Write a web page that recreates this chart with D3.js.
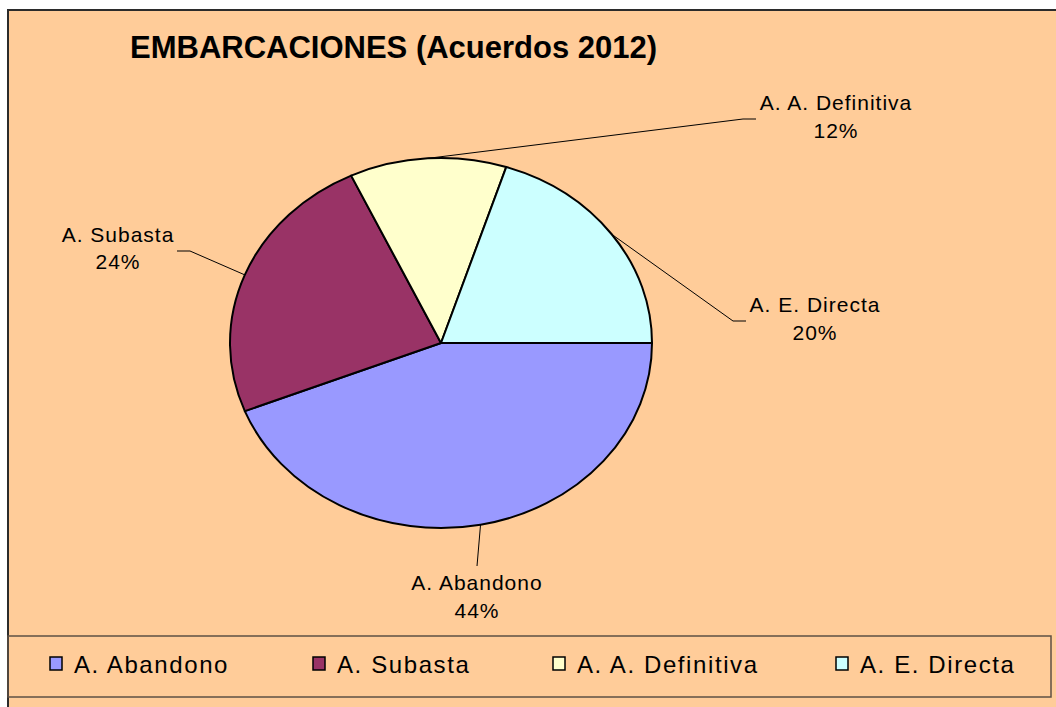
<!DOCTYPE html>
<html>
<head>
<meta charset="utf-8">
<script src="https://cdn.jsdelivr.net/npm/d3@7"></script>
<style>
  body { margin: 0; background: #fff; }
  svg { display: block; }
  text { font-family: "Liberation Sans", Arial, sans-serif; fill: #000; }
</style>
</head>
<body>
<div id="chart"></div>
<script>
// data
let categories = ["A. Abandono", "A. Subasta", "A. A. Definitiva", "A. E. Directa"];
let values = [44, 24, 12, 20];
let pctLabels = ["44%", "24%", "12%", "20%"];
let colors = ["#9999ff", "#993366", "#ffffcc", "#ccffff"];

let w = 1056, h = 707;
let cx = 441, cy = 343;
let rx = 211, ry = 185;

// where the data labels sit (layout only)
let labelLayout = [
  { x: 477, y1: 590, y2: 618, elbow: [477, 566], end: [477, 566] },
  { x: 118, y1: 242, y2: 269, elbow: [190, 251], end: [177, 251] },
  { x: 836, y1: 110, y2: 138, elbow: [743, 119], end: [756, 119] },
  { x: 815, y1: 312, y2: 340, elbow: [733, 321], end: [746, 321] }
];

let viz = d3.select("#chart")
  .append("svg")
    .attr("width", w)
    .attr("height", h)
;

// background panel with the dark frame top/left
viz.append("rect")
  .attr("x", 8).attr("y", 10)
  .attr("width", w).attr("height", h)
  .attr("fill", "#ffcc99")
;
viz.append("path")
  .attr("d", "M8," + h + " L8,10 L" + w + ",10")
  .attr("fill", "none")
  .attr("stroke", "#2b2b2b")
  .attr("stroke-width", 2)
;

viz.append("text")
  .attr("x", 130)
  .attr("y", 58)
  .attr("font-size", "31px")
  .attr("font-weight", "bold")
  .text("EMBARCACIONES (Acuerdos 2012)")
;

let pie = d3.pie()
  .sort(null)
  .value(function(d){ return d; })
  .startAngle(Math.PI / 2)
  .endAngle(Math.PI / 2 + 2 * Math.PI)
;
let arcs = pie(values);

let arc = d3.arc().innerRadius(0).outerRadius(rx);

let pieGroup = viz.append("g")
  .attr("transform", "translate(" + cx + "," + cy + ") scale(1," + (ry / rx) + ")")
;
pieGroup.selectAll(".slice")
  .data(arcs)
  .enter()
  .append("path")
    .attr("class", "slice")
    .attr("d", arc)
    .attr("fill", function(d, i){ return colors[i]; })
    .attr("stroke", "#000")
    .attr("stroke-width", 2)
    .attr("stroke-linejoin", "round")
    .attr("vector-effect", "non-scaling-stroke")
;

// leader lines + labels
let labelGroup = viz.append("g");
arcs.forEach(function(d, i){
  let a = (d.startAngle + d.endAngle) / 2;
  let px = cx + Math.sin(a) * rx;
  let py = cy - Math.cos(a) * ry;
  let L = labelLayout[i];
  labelGroup.append("polyline")
    .attr("points", [[px, py], L.elbow, L.end].map(function(p){ return p.join(","); }).join(" "))
    .attr("fill", "none")
    .attr("stroke", "#000")
    .attr("stroke-width", 1)
  ;
  labelGroup.append("text")
    .attr("x", L.x).attr("y", L.y1)
    .attr("text-anchor", "middle")
    .attr("font-size", "21px")
    .attr("letter-spacing", "1px")
    .text(categories[i])
  ;
  labelGroup.append("text")
    .attr("x", L.x).attr("y", L.y2)
    .attr("text-anchor", "middle")
    .attr("font-size", "21px")
    .attr("letter-spacing", "1px")
    .text(pctLabels[i])
  ;
});

// legend
let legendX = [50, 313, 553, 836];
let legend = viz.append("g");
legend.append("rect")
  .attr("x", 8).attr("y", 636)
  .attr("width", 1043).attr("height", 61)
  .attr("fill", "none")
  .attr("stroke", "#5e5044")
  .attr("stroke-width", 1.5)
;
let items = legend.selectAll(".item")
  .data(categories)
  .enter()
  .append("g")
    .attr("class", "item")
    .attr("transform", function(d, i){ return "translate(" + legendX[i] + ",0)"; })
;
items.append("rect")
  .attr("x", 0).attr("y", 657)
  .attr("width", 12).attr("height", 13)
  .attr("fill", function(d, i){ return colors[i]; })
  .attr("stroke", "#000")
  .attr("stroke-width", 1.5)
;
items.append("text")
  .attr("x", 24).attr("y", 673)
  .attr("font-size", "24px")
  .attr("letter-spacing", "1.6px")
  .text(function(d){ return d; })
;
</script>
</body>
</html>
